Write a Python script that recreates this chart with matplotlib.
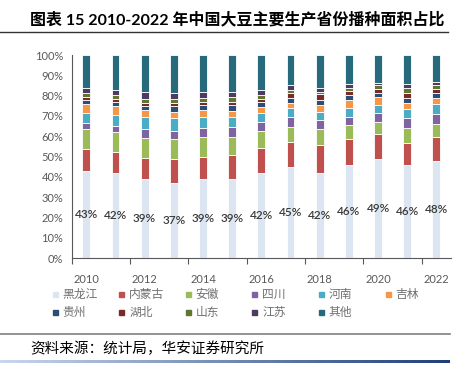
import numpy as np
import matplotlib.pyplot as plt
from matplotlib.patches import Rectangle
from matplotlib.lines import Line2D
from matplotlib.colors import LinearSegmentedColormap

plt.rcParams['font.family'] = ['Lato', 'Noto Sans CJK SC', 'DejaVu Sans']

years = [str(y) for y in range(2010, 2023)]
provinces = ['黑龙江', '内蒙古', '安徽', '四川', '河南', '吉林',
             '贵州', '湖北', '山东', '江苏', '其他']
colors = ['#DCE6F2', '#C0504D', '#9BBB59', '#8064A2', '#4BACC6', '#F79646',
          '#2C4D75', '#772C2A', '#5F7530', '#4D3B62', '#276A7C']

# share of sown area, %
heilongjiang = [43, 42, 39, 37, 39, 39, 42, 45, 42, 46, 49, 46, 48]
neimenggu    = [10.7, 10.4, 10.3, 11.6, 10.9, 11.7, 12.5, 12.3, 13.5, 12.6, 11.9, 10.6, 11.9]
anhui        = [9.7, 9.5, 10.1, 10.0, 9.7, 9.0, 8.0, 7.5, 7.9, 6.9, 6.2, 7.3, 6.2]
sichuan      = [3.2, 3.4, 4.0, 4.1, 4.4, 4.8, 4.4, 4.5, 4.4, 4.2, 4.6, 5.0, 4.9]
henan        = [5.1, 5.2, 6.0, 6.1, 5.4, 5.0, 4.6, 4.4, 4.4, 4.3, 3.7, 4.4, 4.9]
jilin        = [4.4, 4.3, 3.4, 3.4, 3.4, 3.0, 2.7, 2.6, 3.2, 3.8, 3.8, 3.1, 3.0]
guizhou      = [1.9, 2.1, 2.3, 2.7, 2.5, 2.9, 2.9, 2.6, 2.7, 2.3, 2.1, 2.5, 2.4]
hubei        = [1.3, 1.3, 1.5, 1.5, 1.6, 1.7, 1.5, 2.4, 2.5, 2.4, 2.0, 2.4, 2.1]
shandong     = [1.8, 1.9, 2.0, 1.8, 1.8, 2.3, 1.8, 1.5, 1.4, 1.5, 1.7, 2.3, 1.7]
jiangsu      = [2.7, 2.6, 3.2, 3.3, 3.0, 2.6, 2.4, 2.3, 2.0, 1.6, 1.4, 2.0, 1.6]
series = [heilongjiang, neimenggu, anhui, sichuan, henan, jilin,
          guizhou, hubei, shandong, jiangsu]
qita = [100 - sum(s[i] for s in series) for i in range(len(years))]
series.append(qita)

W, H = 458, 365
fig = plt.figure(figsize=(W / 100, H / 100), dpi=100)
ax = fig.add_axes([71.7 / W, 1 - 258.3 / H, (451 - 71.7) / W, (258.3 - 55) / H])

x = np.arange(len(years))
bottom = np.zeros(len(years))
for vals, c in zip(series, colors):
    v = np.array(vals) / 100
    ax.bar(x, v, 0.27, bottom=bottom, color=c, edgecolor='white', linewidth=0.6)
    bottom += v

for i, v in enumerate(heilongjiang):
    ax.text(i, v / 200, f'{v:.0f}%', ha='center', va='center',
            fontsize=8.5, color='#3a3a3a', fontweight='semibold')

ax.set_xlim(-0.5, len(years) - 0.5)
ax.set_ylim(0, 1)
ax.set_yticks(np.arange(0, 1.01, 0.1))
ax.set_yticklabels([f'{int(round(t * 100))}%' for t in np.arange(0, 1.01, 0.1)])
ax.tick_params(axis='y', length=0, labelsize=8, labelcolor='#595959', pad=6)
ax.set_xticks(np.arange(-0.5, len(years) - 1, 2))
ax.set_xticklabels([])
ax.set_xticks(x[::2], minor=True)
ax.set_xticklabels(years[::2], minor=True)
ax.tick_params(axis='x', which='major', length=4, color='#595959', width=0.8)
ax.tick_params(axis='x', which='minor', length=0, labelsize=8,
               labelcolor='#595959', pad=11)
for s in ['top', 'right']:
    ax.spines[s].set_visible(False)
for s in ['left', 'bottom']:
    ax.spines[s].set_color('#595959')
    ax.spines[s].set_linewidth(0.8)

# legend, fixed slots
for i, (name, c) in enumerate(zip(provinces, colors)):
    row, col = divmod(i, 6)
    px = 52.5 + col * 66.6
    py = 294.3 + row * 18
    fig.patches.append(Rectangle((px / W, 1 - (py + 2.5) / H), 5 / W, 5 / H,
                                 transform=fig.transFigure, color=c))
    fig.text((px + 10) / W, 1 - py / H, name, fontsize=8.5, color='#6f6f6f',
             va='center', ha='left')

# title, rules and source
fig.text(30 / W, 1 - 19.5 / H, '图表 15 2010-2022 年中国大豆主要生产省份播种面积占比',
         fontsize=11.5, fontweight='bold', color='#000000', va='center')
fig.add_artist(Line2D([0, 448 / W], [1 - 32.3 / H] * 2, color='#333333', lw=1))
fig.add_artist(Line2D([0, 450 / W], [1 - 334.3 / H] * 2, color='#808080', lw=1.2))
fig.text(30 / W, 1 - 349 / H, '资料来源：统计局，华安证券研究所',
         fontsize=10.5, color='#000000', va='center')

gax = fig.add_axes([0, 1 - 363 / H, 450 / W, 3 / H])
grad = np.linspace(0, 1, 256)[None, :]
cmap = LinearSegmentedColormap.from_list('g', ['#c9d8ec', '#1f3f7a'])
gax.imshow(grad, aspect='auto', cmap=cmap)
gax.axis('off')

fig.savefig('out.png', dpi=100)
